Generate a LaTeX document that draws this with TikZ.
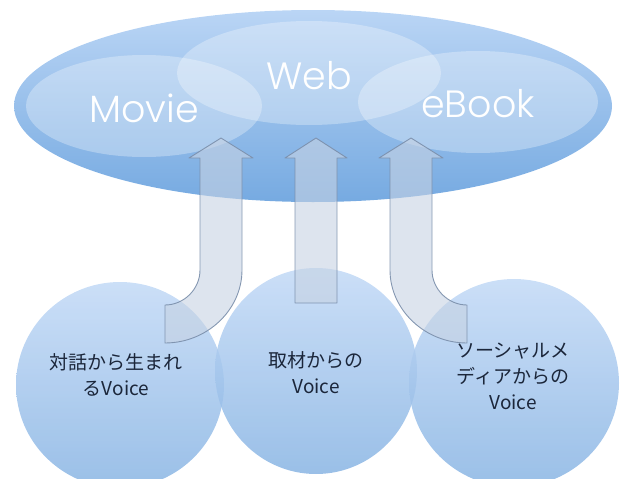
\documentclass[tikz,border=0pt]{standalone}
\usepackage{fontspec}
\newfontfamily\jfont{Noto Sans CJK JP}
\newfontfamily\gfont{Poppins Light}
\usetikzlibrary{shapes.geometric}
\definecolor{bigtop}{HTML}{BAD5F5}
\definecolor{bigbot}{HTML}{76AAE1}
\definecolor{circtop}{HTML}{C2D9F6}
\definecolor{circbot}{HTML}{88B4E3}
\definecolor{arrfill}{HTML}{C6D2E3}
\definecolor{arredge}{HTML}{7A8EAA}
\definecolor{jtext}{HTML}{1B263A}
\begin{document}
\begin{tikzpicture}[x=1pt,y=-1pt,
  big/.style={ellipse, inner sep=0pt, top color=bigtop, bottom color=bigbot},
  innerell/.style={ellipse, inner sep=0pt, fill=white, fill opacity=0.3},
  toplabel/.style={text=white, inner sep=0pt, font=\gfont\fontsize{38}{40}\selectfont},
  voicecirc/.style={ellipse, inner sep=0pt, top color=circtop, bottom color=circbot, fill opacity=0.85},
  voicetext/.style={text=jtext, inner sep=0pt, align=center, font=\jfont\fontsize{19}{26}\selectfont},
  blockarrow/.style={fill=arrfill, fill opacity=0.6, draw=arredge, draw opacity=0.9, line width=0.9pt, line join=round}]
\clip (0,0) rectangle (621,479);
\useasboundingbox (0,0) rectangle (621,479);
% big ellipse
\node[big, minimum width=598pt, minimum height=192pt] (media) at (313,106) {};
\node[innerell, minimum width=236pt, minimum height=102pt] (movieell) at (144,106) {};
\node[innerell, minimum width=264pt, minimum height=104pt] (webell) at (309,73) {};
\node[innerell, minimum width=240pt, minimum height=102pt] (ebookell) at (478,102) {};
\node[toplabel] (movie) at (144,108) {Movie};
\node[toplabel] (web) at (309,76) {Web};
\node[toplabel] (ebook) at (478,104) {eBook};
% bottom circles
\node[voicecirc, minimum width=208pt, minimum height=206pt] (c1) at (120,385) {};
\node[voicecirc, minimum width=202pt, minimum height=206pt] (c2) at (316,371) {};
\node[voicecirc, minimum width=210pt, minimum height=208pt] (c3) at (514,383) {};
\node[voicetext] (t1) at (116,375) {対話から生まれ\\るVoice};
\node[voicetext] (t2) at (316,373) {取材からの\\Voice};
\node[voicetext] (t3) at (513,376) {ソーシャルメ\\ディアからの\\Voice};
% arrows
\path[blockarrow] (221,138) -- (253,158) -- (242,158) -- (242,270)
  .. controls (242,310) and (207,343) .. (165,343) -- (165,305)
  .. controls (184,305) and (200,289) .. (200,270) -- (200,158) -- (189,158) -- cycle;
\path[blockarrow] (316,138) -- (347,158) -- (337,158) -- (337,303) -- (295,303) -- (295,158) -- (285,158) -- cycle;
\path[blockarrow] (411,138) -- (443,158) -- (432,158) -- (432,270)
  .. controls (432,289) and (448,305) .. (467,305) -- (467,343)
  .. controls (425,343) and (390,310) .. (390,270) -- (390,158) -- (379,158) -- cycle;
\end{tikzpicture}
\end{document}
